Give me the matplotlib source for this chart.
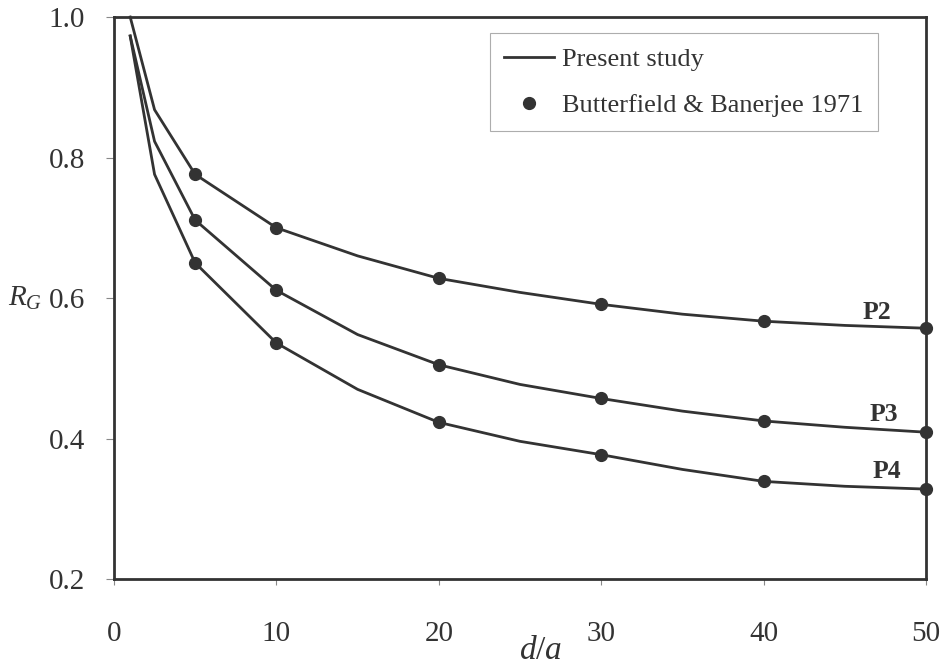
import matplotlib
matplotlib.use("Agg")
import matplotlib.pyplot as plt
from matplotlib.lines import Line2D

plt.rcParams['font.family'] = ['Liberation Serif', 'DejaVu Serif']
plt.rcParams['mathtext.fontset'] = 'custom'
plt.rcParams['mathtext.rm'] = 'Liberation Serif'
plt.rcParams['mathtext.it'] = 'Liberation Serif:italic'

# present study (lines)
x_line = [1, 2.5, 5, 10, 15, 20, 25, 30, 35, 40, 45, 50]
p2_line = [1.0, 0.868, 0.776, 0.700, 0.660, 0.628, 0.608, 0.591, 0.577, 0.567, 0.561, 0.557]
p3_line = [0.973, 0.823, 0.711, 0.611, 0.548, 0.505, 0.477, 0.457, 0.439, 0.425, 0.416, 0.409]
p4_line = [0.973, 0.776, 0.650, 0.536, 0.470, 0.423, 0.396, 0.377, 0.356, 0.339, 0.332, 0.328]

# Butterfield & Banerjee 1971 (dots)
x_exp = [5, 10, 20, 30, 40, 50]
p2_exp = [0.776, 0.700, 0.628, 0.591, 0.567, 0.557]
p3_exp = [0.711, 0.611, 0.505, 0.457, 0.425, 0.409]
p4_exp = [0.650, 0.536, 0.423, 0.377, 0.339, 0.328]

labels = ['P2', 'P3', 'P4']
xticks = [0, 10, 20, 30, 40, 50]
yticks = [0.2, 0.4, 0.6, 0.8, 1.0]

ink = '#333333'

fig = plt.figure(figsize=(9.52, 6.70), dpi=100, facecolor='white')
ax = fig.add_axes([0.1197, 0.1358, 0.853, 0.8388])

for yl, ye in zip([p2_line, p3_line, p4_line], [p2_exp, p3_exp, p4_exp]):
    ax.plot(x_line, yl, color=ink, lw=2.0, clip_on=False, zorder=3)
    ax.plot(x_exp, ye, 'o', color=ink, ms=8.5, clip_on=False, zorder=4)

# curve labels
for name, xl, yl in zip(labels, [47.0, 47.4, 47.6], [0.563, 0.418, 0.336]):
    ax.text(xl, yl, name, ha='center', va='bottom', fontsize=18.5,
            fontweight='bold', color=ink)

ax.set_xlim(0, 50)
ax.set_ylim(0.2, 1.0)
ax.set_xticks(xticks)
ax.set_yticks(yticks)
ax.set_xticklabels([str(t) for t in xticks])
ax.set_yticklabels(['%.1f' % t for t in yticks])
ax.tick_params(axis='y', direction='out', length=6, width=0.8, color='#888888',
               pad=15, labelsize=21, labelcolor=ink)
ax.tick_params(axis='x', direction='out', length=4, width=0.8, color='#888888',
               pad=26, labelsize=21, labelcolor=ink)
for s in ax.spines.values():
    s.set_linewidth(2.0)
    s.set_color(ink)

ax.text(0.525, -0.10, r'$d/a$', transform=ax.transAxes, ha='center',
        va='top', fontsize=24, color=ink)
ax.text(-0.11, 0.6, r'$R_G$', transform=ax.get_yaxis_transform(),
        ha='center', va='center', fontsize=21, color=ink)

handles = [Line2D([], [], color=ink, lw=2.0),
           Line2D([], [], ls='none', marker='o', color=ink, ms=8.5)]
leg = ax.legend(handles, ['Present study', 'Butterfield & Banerjee 1971'],
                loc='upper right', bbox_to_anchor=(0.941, 0.9715),
                borderaxespad=0, fontsize=19, frameon=True, fancybox=False,
                handlelength=1.9, handletextpad=0.3, labelspacing=0.85,
                borderpad=0.55)
leg.get_frame().set_edgecolor('#999999')
leg.get_frame().set_linewidth(0.8)
for t in leg.get_texts():
    t.set_color(ink)

fig.savefig('out.png', dpi=100, facecolor='white')
